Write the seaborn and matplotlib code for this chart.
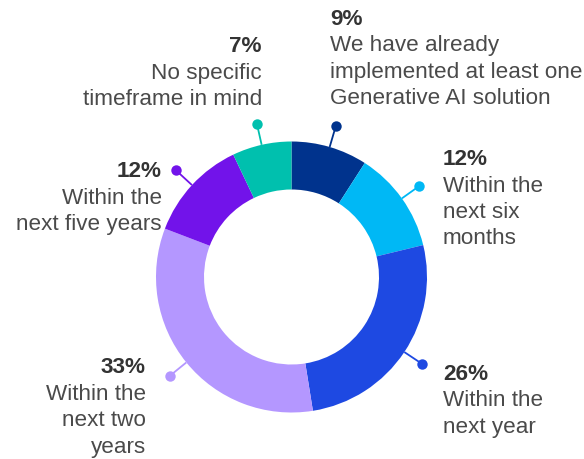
import numpy as np
import matplotlib.pyplot as plt
import seaborn as sns

# Data
categories = ['We have already\nimplemented at least one\nGenerative AI solution',
              'Within the\nnext six\nmonths',
              'Within the\nnext year',
              'Within the\nnext two\nyears',
              'Within the\nnext five years',
              'No specific\ntimeframe in mind']
values = [9, 12, 26, 33, 12, 7]
colors = ['#00338D', '#00B8F5', '#1E49E2', '#B497FF', '#7213EA', '#00C0AE']

sns.set_theme(style='white')
plt.rcParams['font.family'] = ['Liberation Sans', 'DejaVu Sans']

W, H = 584, 459
fig = plt.figure(figsize=(W / 100, H / 100), dpi=100)
ax = fig.add_axes([0, 0, 1, 1])

cx, cy = 291.5, H - 277
R = 135.5
wedges, _ = ax.pie(values, colors=colors, startangle=90, counterclock=False,
                   center=(cx, cy), radius=R,
                   wedgeprops=dict(width=48, linewidth=0))

# leader lines with dots
for w, c in zip(wedges, colors):
    ang = np.deg2rad((w.theta1 + w.theta2) / 2)
    r_dot = 157
    x0, y0 = cx + R * np.cos(ang), cy + R * np.sin(ang)
    x1, y1 = cx + r_dot * np.cos(ang), cy + r_dot * np.sin(ang)
    ax.plot([x0, x1], [y0, y1], color=c, lw=1.3, solid_capstyle='butt')
    ax.plot(x1, y1, 'o', color=c, ms=7.5, mec='none')

# label anchors (x, alignment, first baseline from top)
anchors = [(330, 'left', 25), (443, 'left', 165), (443, 'left', 380),
           (146, 'right', 373), (162, 'right', 177), (262, 'right', 52)]
pitch = 26.5
fs = 16.2
for (x, ha, y), val, cat in zip(anchors, values, categories):
    ax.text(x, H - y, f'{val}%', ha=ha, va='baseline', fontsize=fs,
            fontweight='bold', color='#333333')
    for i, line in enumerate(cat.split('\n')):
        ax.text(x, H - (y + pitch * (i + 1)), line, ha=ha, va='baseline',
                fontsize=fs, color='#4a4a4a')

ax.set_xlim(0, W)
ax.set_ylim(0, H)
ax.set_aspect('auto')
ax.axis('off')
fig.savefig('out.png', dpi=100)
